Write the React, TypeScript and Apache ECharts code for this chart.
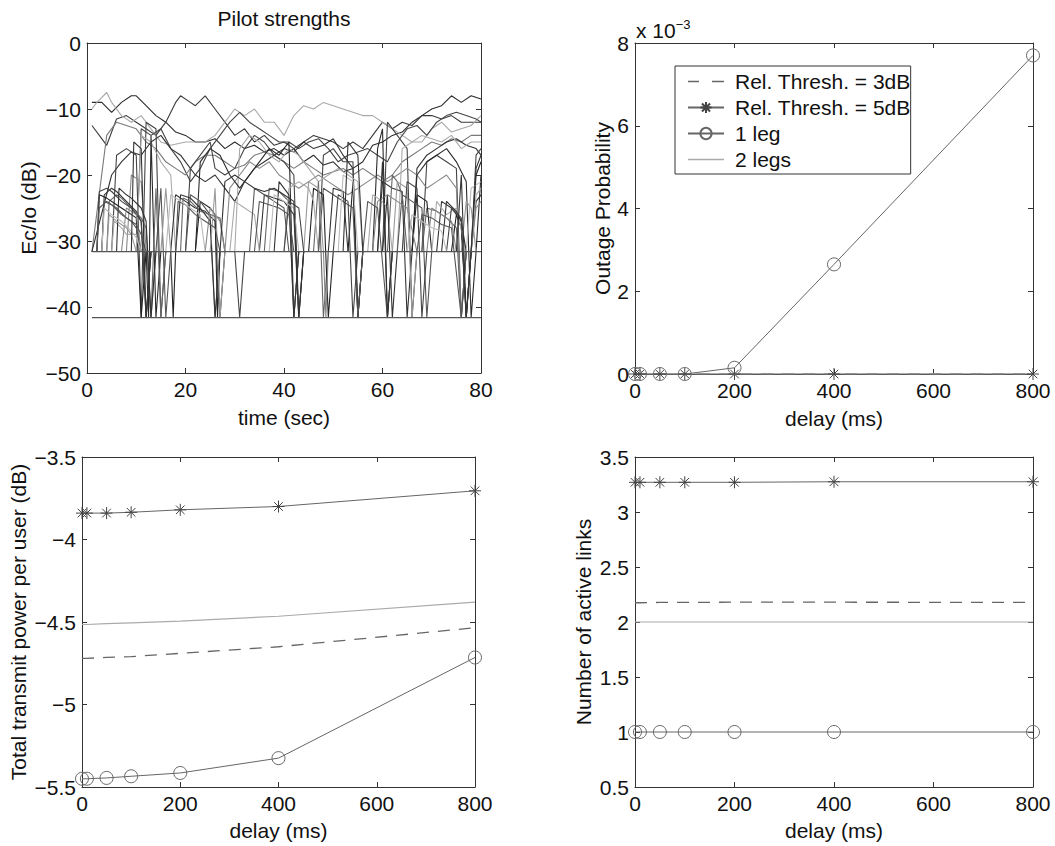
import React, { useEffect, useRef } from "react";
import * as echarts from "echarts";

// ---------- DATA ----------
const DELAYS = [0, 10, 50, 100, 200, 400, 800];

const OUTAGE_3DB = [0, 0, 0, 0, 0, 0, 0];
const OUTAGE_5DB = [0, 0, 0, 0, 0, 0, 0];
const OUTAGE_1LEG = [0, 0, 0, 0, 0.00015, 0.00265, 0.0077];
const OUTAGE_2LEG = [0, 0, 0, 0, 0, 0, 0];

const POWER_3DB = [-4.72, -4.72, -4.715, -4.71, -4.69, -4.65, -4.535];
const POWER_5DB = [-3.84, -3.84, -3.84, -3.835, -3.82, -3.8, -3.705];
const POWER_1LEG = [-5.45, -5.45, -5.445, -5.435, -5.415, -5.325, -4.715];
const POWER_2LEG = [-4.515, -4.515, -4.51, -4.505, -4.495, -4.465, -4.38];

const LINKS_3DB = [2.175, 2.175, 2.178, 2.178, 2.18, 2.18, 2.178];
const LINKS_5DB = [3.27, 3.27, 3.27, 3.27, 3.27, 3.275, 3.275];
const LINKS_1LEG = [1, 1, 1, 1, 1, 1, 1];
const LINKS_2LEG = [2, 2, 2, 2, 2, 2, 2];

const LEGEND_NAMES = ["Rel. Thresh. = 3dB", "Rel. Thresh. = 5dB", "1 leg", "2 legs"];

// Pilot strengths (time sec, Ec/Io dB)
const FLOOR_HI = [[1, -31.6], [80, -31.6]];
const FLOOR_LO = [[1, -41.6], [80, -41.6]];

const PILOT_U1 = [[1,-9],[3,-9],[5,-10.5],[7,-9],[9,-8],[10,-8],[12,-9.5],[14,-11],[16,-12],[18,-13.5],[20,-14],[22,-15],[24,-15],[26,-14.5],[28,-16],[30,-15],[32,-16],[34,-15.5],[36,-16.5],[38,-16],[40,-17],[42,-16],[44,-18],[46,-17],[48,-18.5],[50,-18],[52,-19.5],[54,-19],[56,-18],[58,-15.5],[60,-15],[62,-14],[64,-13.5],[66,-12],[68,-11],[70,-10],[72,-9.5],[74,-8],[76,-9],[78,-8],[80,-8.5]];
const PILOT_U2 = [[1,-12.5],[2.5,-14],[4,-15.5],[6,-11.5],[8,-11],[10,-12],[12,-13],[14,-14],[16,-12],[18,-9],[19,-8],[21,-9],[22,-9.5],[24,-8],[26,-10],[28,-12],[30,-14],[32,-13],[34,-15],[36,-14],[38,-15.5],[40,-15],[42,-16],[44,-15],[46,-14],[48,-14.5],[50,-15],[52,-16],[54,-15],[56,-16],[58,-14],[60,-12],[62,-13],[64,-12],[66,-12.5],[68,-11],[70,-11],[72,-11.5],[74,-11],[76,-12],[78,-12],[80,-12]];
const PILOT_U3 = [[1,-10],[2,-9],[4,-7.5],[5,-9],[7,-11],[9,-12],[11,-11],[13,-13],[15,-15],[17,-15.5],[20,-15],[22,-15],[24,-15],[26,-14],[28,-12],[30,-10],[32,-11],[34,-10],[36,-12],[38,-12],[40,-14],[42,-11],[44,-9.5],[46,-10],[48,-9],[50,-9.5],[52,-10],[54,-10.5],[56,-11],[58,-11],[60,-12],[62,-13],[64,-14],[66,-15],[68,-15],[70,-13],[72,-12],[74,-13.5],[76,-13],[78,-12.5],[80,-11]];
const PILOT_U4 = [[1,-31.6],[10,-31.6],[11,-13],[13,-14],[15,-13],[17,-16],[19,-18],[21,-21],[23,-19],[25,-16],[27,-14],[29,-12],[31,-10.5],[33,-12],[35,-13],[37,-14],[39,-15],[41,-15],[43,-16],[45,-15],[47,-14.5],[49,-16],[51,-18],[53,-17],[55,-16.5],[57,-16],[59,-17],[61,-18],[63,-15],[65,-13],[67,-12.5],[69,-14],[71,-12],[73,-11],[75,-10.5],[77,-11],[79,-11.5],[80,-12]];
const PILOT_U5 = [[1,-31.6],[4,-14],[6,-12],[8,-12.5],[10,-13],[12,-15],[14,-16],[16,-18],[18,-19],[20,-20],[22,-18],[24,-17],[26,-17],[28,-18],[30,-19],[32,-18.5],[34,-17],[36,-16.5],[38,-17],[40,-18],[42,-19],[44,-18],[46,-19],[48,-20],[50,-19.5],[52,-19],[54,-20],[56,-19],[58,-20],[60,-21],[62,-20],[64,-18],[66,-17],[68,-16],[70,-15],[72,-15.5],[74,-14.5],[76,-15],[78,-14],[80,-14]];
const PILOT_U6 = [[1,-31.6],[5,-20],[7,-18],[9,-16.5],[11,-17],[13,-15],[15,-14],[17,-16],[19,-17],[20,-18],[22,-20],[24,-21],[26,-20],[28,-22],[30,-24],[32,-21],[34,-19],[36,-18],[38,-17],[40,-16],[42,-16.5],[44,-15],[46,-16],[48,-15.5],[50,-14.5],[52,-17],[54,-19],[55,-41.6],[56,-31.6],[66,-31.6],[67,-19],[69,-17],[71,-16],[73,-15],[75,-14.5],[77,-15.5],[79,-16],[80,-17]];
const PILOT_M1 = [[1,-31.6],[5,-31.6],[6,-17],[8,-16],[10,-17],[11,-41.6],[12,-12],[14,-13],[15,-41.6],[16,-31.6],[20,-31.6],[21,-19],[23,-17],[25,-15],[26,-19],[28,-20],[30,-19],[32,-16],[34,-14],[36,-15],[38,-17],[40,-18],[42,-20],[43,-41.6],[44,-31.6],[47,-31.6],[48,-17],[50,-16],[52,-18],[54,-18],[55,-41.6],[56,-31.6],[60,-31.6],[61,-12],[63,-14],[65,-16],[66,-41.6],[67,-31.6],[68,-31.6],[69,-18],[71,-17],[73,-18],[75,-19],[76,-41.6],[77,-31.6],[78,-31.6],[79,-17],[80,-16]];
const PILOT_M2 = [[1,-31.6],[8,-31.6],[9,-20],[11,-21],[13,-41.6],[14,-31.6],[28,-31.6],[29,-22],[31,-20],[33,-18],[35,-19],[37,-18],[39,-20],[41,-21],[43,-22],[45,-21],[47,-20],[49,-21],[51,-22],[53,-23],[55,-22],[57,-21],[59,-20],[61,-21],[63,-20],[65,-19],[67,-20],[69,-22],[71,-21],[73,-20],[75,-22],[76,-41.6],[77,-31.6],[80,-31.6]];
const PILOT_M3 = [[1,-31.6],[10,-31.6],[11,-14],[13,-15],[15,-18],[17,-20],[18,-31.6],[30,-31.6],[31,-16],[33,-14],[35,-15],[37,-17],[39,-18],[41,-16],[43,-17],[45,-19],[47,-21],[49,-20],[51,-19],[53,-20],[55,-21],[56,-31.6],[63,-31.6],[64,-16],[66,-15],[68,-14],[70,-14.5],[72,-15],[74,-14],[76,-16],[78,-15],[80,-15]];
const PILOT_M4 = [[1,-31.6],[12,-31.6],[12.5,-41.6],[13,-14],[14,-41.6],[15,-31.6],[22,-31.6],[23,-18],[25,-16],[27,-17],[29,-20],[31,-22],[33,-20],[35,-18],[37,-16],[39,-17],[41,-15],[42,-41.6],[43,-31.6],[58,-31.6],[59,-16],[60,-13],[61,-41.6],[62,-31.6],[66,-31.6],[67,-20],[69,-18],[71,-17],[73,-16],[75,-18],[77,-21],[78,-41.6],[79,-31.6],[80,-20]];
const PILOT_S1 = [[1,-31.6],[3,-31.6],[3.5,-23],[5,-22],[6,-22.5],[8,-24],[10,-25.5],[11,-27],[12,-41.6],[13,-31.6],[17,-31.6],[18,-23],[20,-24],[22,-25],[24,-25.5],[26,-27],[27,-41.6],[28,-31.6],[35,-31.6],[36,-23],[38,-23.5],[40,-24],[42,-26],[43,-41.6],[44,-31.6],[59,-31.6],[60,-21],[62,-22],[64,-22.5],[65,-41.6],[66,-31.6],[71,-31.6],[72,-24],[74,-25],[76,-27],[77,-41.6],[78,-31.6],[79,-24],[80,-23]];
const PILOT_S2 = [[1,-31.6],[4,-31.6],[4.5,-24],[6,-23],[7,-23.5],[9,-25],[11,-26.5],[12,-28],[13,-41.6],[14,-22],[15,-41.6],[16,-31.6],[19,-31.6],[19.5,-23.5],[21,-24],[23,-25.5],[25,-26],[26,-41.6],[27,-31.6],[36,-31.6],[37,-22],[39,-22.5],[41,-24],[42,-41.6],[43,-31.6],[46,-31.6],[47,-21],[48,-41.6],[49,-31.6],[61,-31.6],[62,-20],[63,-21],[64,-23],[65,-31.6],[68,-31.6],[69,-25],[71,-25.5],[73,-26.5],[75,-28],[76,-41.6],[77,-31.6],[80,-31.6]];
const PILOT_S3 = [[1,-31.6],[2,-31.6],[2.5,-23],[4,-23.5],[6,-24.5],[8,-25.5],[10,-26.5],[11,-41.6],[12,-31.6],[17,-31.6],[17.5,-41.6],[18,-31.6],[22,-31.6],[23,-24],[25,-25],[26,-26],[26.5,-41.6],[27,-31.6],[45,-31.6],[46,-22],[48,-23],[49,-41.6],[50,-31.6],[53,-31.6],[54,-21],[55,-41.6],[56,-31.6],[66,-31.6],[67,-23],[69,-24],[70,-31.6],[74,-31.6],[75,-26],[76,-28],[77,-41.6],[78,-31.6],[79,-20],[80,-18]];
const PILOT_S4 = [[1,-31.6],[5,-31.6],[5.5,-27],[7,-28],[8,-29],[10,-29],[11,-31.6],[29,-31.6],[30,-24],[32,-25],[34,-26],[35,-31.6],[40,-31.6],[41,-22],[43,-21],[45,-22],[46,-24],[47,-31.6],[57,-31.6],[58,-23],[60,-24],[61,-25],[62,-31.6],[70,-31.6],[71,-24],[73,-26],[75,-25],[77,-31.6],[78,-31.6],[79,-23],[80,-22]];
const PILOT_S5 = [[1,-31.6],[3,-31.6],[3.5,-24],[5,-24.5],[7,-26],[9,-27],[10,-28],[11,-31.6],[14,-31.6],[15,-22],[16,-41.6],[17,-31.6],[20,-31.6],[21,-23],[23,-24],[25,-26],[27,-26.5],[28,-31.6],[33,-31.6],[34,-22],[36,-23],[38,-24],[40,-25],[41,-31.6],[47,-31.6],[48,-22],[50,-23],[52,-24],[54,-25],[55,-41.6],[56,-31.6],[63,-31.6],[64,-23],[66,-24],[68,-25],[69,-41.6],[70,-31.6],[80,-31.6]];
const PILOT_S6 = [[1,-31.6],[6,-31.6],[6.5,-22],[8,-23],[9,-23.5],[11,-25],[12,-27],[13,-41.6],[14,-31.6],[18,-31.6],[19,-23],[21,-23.5],[23,-25],[24,-26],[25,-27],[26,-41.6],[27,-31.6],[38,-31.6],[39,-21],[41,-23],[42,-41.6],[43,-31.6],[49,-31.6],[50,-22],[52,-22.5],[53,-31.6],[60,-31.6],[61,-23],[62,-41.6],[63,-31.6],[72,-31.6],[73,-24],[75,-25.5],[76,-27],[77,-31.6],[80,-31.6]];
const PILOT_S7 = [[1,-31.6],[4,-31.6],[4.5,-26],[6,-27],[8,-28],[9,-29],[10,-31.6],[15,-31.6],[16,-22],[17,-31.6],[25,-31.6],[26,-22],[27,-41.6],[28,-31.6],[44,-31.6],[45,-21],[47,-22],[48,-31.6],[62,-31.6],[63,-21],[65,-22],[66,-41.6],[67,-31.6],[76,-31.6],[77,-24],[78,-25],[79,-31.6],[80,-31.6]];
const PILOT_S8 = [[1,-31.6],[2,-31.6],[2.5,-22.5],[4,-22],[5,-22.5],[7,-24],[9,-25],[11,-27],[12,-41.6],[13,-31.6],[30,-31.6],[31,-41.6],[32,-31.6],[40,-31.6],[41,-24],[43,-25],[44,-31.6],[50,-31.6],[51,-23],[53,-24],[54,-41.6],[55,-31.6],[64,-31.6],[65,-21],[67,-22],[68,-41.6],[69,-31.6],[73,-31.6],[74,-25],[76,-26.5],[77,-41.6],[78,-31.6],[80,-31.6]];
const PILOT_S9 = [[1,-31.6],[7,-31.6],[8,-25],[10,-26],[11,-31.6],[24,-31.6],[25,-25],[27,-27],[28,-31.6],[48,-31.6],[48.5,-41.6],[49,-31.6],[58,-31.6],[59,-24],[61,-23],[63,-24],[65,-25],[67,-31.6],[69,-31.6],[70,-25],[72,-26],[74,-27],[75,-31.6],[78,-31.6],[79,-25],[80,-24]];
const PILOT_S10 = [[1,-31.6],[2,-31.6],[2.5,-25],[4,-24],[6,-25],[8,-26.5],[10,-27.5],[11,-29],[12,-31.6],[18,-31.6],[18.5,-24],[20,-24.5],[22,-26],[24,-27],[26,-28],[27,-31.6],[34,-31.6],[35,-24],[37,-24.5],[39,-25],[41,-26],[42,-31.6],[56,-31.6],[57,-24],[59,-25],[61,-41.6],[62,-31.6],[67,-31.6],[68,-26],[70,-26.5],[72,-27.5],[74,-28],[76,-41.6],[77,-31.6],[80,-31.6]];
const PILOT_S11 = [[1,-31.6],[3,-31.6],[3.5,-25],[5,-26],[7,-27],[9,-28.5],[10,-29.5],[11,-31.6],[16,-31.6],[17,-23],[19,-24],[21,-25],[23,-26],[24,-31.6],[37,-31.6],[38,-23],[40,-24],[42,-25],[43,-31.6],[51,-31.6],[52,-20],[54,-21],[55,-31.6],[65,-31.6],[66,-26],[68,-27],[70,-28],[72,-28.5],[73,-31.6],[77,-31.6],[78,-22],[80,-21]];
const PILOT_S12 = [[1,-31.6],[9,-31.6],[9.5,-15],[11,-16],[12,-41.6],[13,-31.6],[27,-31.6],[28,-21],[30,-20],[32,-21],[34,-22],[36,-22.5],[38,-22],[40,-23],[42,-24],[43,-41.6],[44,-31.6],[52,-31.6],[53,-15],[55,-17],[56,-31.6],[59,-31.6],[60,-18],[61,-41.6],[62,-31.6],[75,-31.6],[76,-20],[77,-41.6],[78,-31.6],[79,-19],[80,-17]];

const PILOT_SERIES = [
  PILOT_U1, PILOT_U2, PILOT_U3, PILOT_U4, PILOT_U5, PILOT_U6,
  PILOT_M1, PILOT_M2, PILOT_M3, PILOT_M4,
  PILOT_S1, PILOT_S2, PILOT_S3, PILOT_S4, PILOT_S5, PILOT_S6, PILOT_S7, PILOT_S8, PILOT_S9,
  PILOT_S10, PILOT_S11, PILOT_S12,
];
const PILOT_COLORS = [
  "#2a2a2a", "#3a3a3a", "#a8a8a8", "#444444", "#7a7a7a", "#333333",
  "#444444", "#888888", "#aaaaaa", "#2a2a2a",
  "#333333", "#666666", "#222222", "#aaaaaa", "#555555", "#333333", "#999999", "#444444", "#888888",
  "#555555", "#bbbbbb", "#333333",
];

// ---------- STYLE ----------
const FONT = "'Liberation Sans', Arial, Helvetica, sans-serif";
const FS = 21;
const AX = "#333";
const TXT = "#111";
const STAR = "path://M0,-5L0,5M-5,0L5,0M-3.6,-3.6L3.6,3.6M-3.6,3.6L3.6,-3.6";
const DASH_ICON = "path://M0,0h11v1.4h-11zM24,0h12v1.4h-12z";
const LINE_ICON = "path://M0,0h36v1.3h-36z";

const minus = (s: string) => s.replace("-", "\u2212");

function fmtNum(v: number) {
  return minus(String(+v.toFixed(2)));
}

function xAxes(grid: number, min: number, max: number, interval: number, name: string, nameGap: number) {
  const common = {
    type: "value",
    gridIndex: grid,
    min,
    max,
    interval,
    splitLine: { show: false },
    axisLine: { show: true, onZero: false, lineStyle: { color: AX, width: 1 } },
    axisTick: { show: true, inside: true, length: 5, lineStyle: { color: AX } },
  };
  return [
    {
      ...common,
      position: "bottom",
      name,
      nameLocation: "middle",
      nameGap,
      nameTextStyle: { fontFamily: FONT, fontSize: FS, color: TXT },
      axisLabel: { fontFamily: FONT, fontSize: FS, color: TXT, margin: 6, formatter: fmtNum, showMinLabel: true, showMaxLabel: true },
    },
    { ...common, position: "top", axisLabel: { show: false } },
  ];
}

function yAxes(grid: number, min: number, max: number, interval: number, name: string, nameGap: number, fmt: (v: number) => string) {
  const common = {
    type: "value",
    gridIndex: grid,
    min,
    max,
    interval,
    splitLine: { show: false },
    axisLine: { show: true, onZero: false, lineStyle: { color: AX, width: 1 } },
    axisTick: { show: true, inside: true, length: 5, lineStyle: { color: AX } },
  };
  return [
    {
      ...common,
      position: "left",
      name,
      nameLocation: "middle",
      nameGap,
      nameTextStyle: { fontFamily: FONT, fontSize: FS, color: TXT },
      axisLabel: { fontFamily: FONT, fontSize: FS, color: TXT, margin: 6, formatter: fmt, showMinLabel: true, showMaxLabel: true },
    },
    { ...common, position: "right", axisLabel: { show: false } },
  ];
}

function pairs(vals: number[]) {
  return DELAYS.map((x, i) => [x, vals[i]]);
}

function delaySeries(xi: number, yi: number, d3: number[], d5: number[], d1: number[], d2: number[]) {
  return [
    {
      type: "line", name: LEGEND_NAMES[0], xAxisIndex: xi, yAxisIndex: yi, data: pairs(d3),
      symbol: "none", lineStyle: { color: "#666", width: 1.3, type: [12, 9] }, itemStyle: { color: "#666" },
    },
    {
      type: "line", name: LEGEND_NAMES[1], xAxisIndex: xi, yAxisIndex: yi, data: pairs(d5),
      symbol: STAR, symbolSize: 12, lineStyle: { color: "#666", width: 1 },
      itemStyle: { color: "rgba(0,0,0,0)", borderColor: "#444", borderWidth: 1 },
    },
    {
      type: "line", name: LEGEND_NAMES[2], xAxisIndex: xi, yAxisIndex: yi, data: pairs(d1),
      symbol: "circle", symbolSize: 13, lineStyle: { color: "#666", width: 1 },
      itemStyle: { color: "rgba(0,0,0,0)", borderColor: "#666", borderWidth: 1 },
    },
    {
      type: "line", name: LEGEND_NAMES[3], xAxisIndex: xi, yAxisIndex: yi, data: pairs(d2),
      symbol: "none", lineStyle: { color: "#aaa", width: 1.2 }, itemStyle: { color: "#aaa" },
    },
  ];
}

export default function App() {
  const ref = useRef<HTMLDivElement>(null);

  useEffect(() => {
    document.body.style.margin = "0";
    if (!ref.current) return;
    const chart = echarts.init(ref.current, undefined, { renderer: "svg" });

    const pilotSeries = PILOT_SERIES.map((d, i) => ({
      type: "line",
      xAxisIndex: 0,
      yAxisIndex: 0,
      data: d,
      symbol: "none",
      silent: true,
      lineStyle: { color: PILOT_COLORS[i], width: 1.1 },
    }));
    const floors = [FLOOR_HI, FLOOR_LO].map((d) => ({
      type: "line", xAxisIndex: 0, yAxisIndex: 0, data: d, symbol: "none", silent: true,
      lineStyle: { color: "#555", width: 1.3 },
    }));

    const option: any = {
      animation: false,
      backgroundColor: "#fff",
      textStyle: { fontFamily: FONT },
      grid: [
        { left: 87, top: 43, width: 394, height: 330 },
        { left: 635, top: 43, width: 398, height: 331 },
        { left: 82, top: 457, width: 393, height: 330 },
        { left: 635, top: 457, width: 398, height: 330 },
      ],
      xAxis: [
        ...xAxes(0, 0, 80, 20, "time (sec)", 34),
        ...xAxes(1, 0, 800, 200, "delay (ms)", 34),
        ...xAxes(2, 0, 800, 200, "delay (ms)", 33),
        ...xAxes(3, 0, 800, 200, "delay (ms)", 33),
      ],
      yAxis: [
        ...yAxes(0, -50, 0, 10, "Ec/Io (dB)", 48, fmtNum),
        ...yAxes(1, 0, 0.008, 0.002, "Outage Probability", 22, (v: number) => String(Math.round(v * 1000))),
        ...yAxes(2, -5.5, -3.5, 0.5, "Total transmit power per user (dB)", 53, fmtNum),
        ...yAxes(3, 0.5, 3.5, 0.5, "Number of active links", 41, fmtNum),
      ],
      legend: {
        data: [
          { name: LEGEND_NAMES[0], icon: DASH_ICON },
          { name: LEGEND_NAMES[1] },
          { name: LEGEND_NAMES[2] },
          { name: LEGEND_NAMES[3], icon: LINE_ICON },
        ],
        orient: "vertical",
        left: 675,
        top: 66,
        padding: [5, 0, 4, 12],
        itemGap: 5,
        itemWidth: 36,
        itemHeight: 14,
        selectedMode: false,
        borderColor: "#333",
        borderWidth: 1,
        backgroundColor: "#fff",
        textStyle: { fontFamily: FONT, fontSize: FS, color: TXT, padding: [0, 0, 0, 6] },
        z: 10,
      },
      graphic: [
        {
          type: "text", x: 284, y: 18,
          style: { text: "Pilot strengths", font: `${FS}px ${FONT}`, fill: TXT, align: "center", verticalAlign: "middle" },
        },
        {
          type: "text", x: 636, y: 18,
          style: {
            text: "x 10{s|\u22123}",
            font: `${FS}px ${FONT}`,
            fill: TXT,
            rich: { s: { fontSize: 13, fontFamily: FONT, verticalAlign: "top", padding: [0, 0, 12, 0], fill: TXT } },
          },
        },
      ],
      series: [
        ...delaySeries(2, 2, OUTAGE_3DB, OUTAGE_5DB, OUTAGE_1LEG, OUTAGE_2LEG),
        ...pilotSeries,
        ...floors,
        ...delaySeries(4, 4, POWER_3DB, POWER_5DB, POWER_1LEG, POWER_2LEG),
        ...delaySeries(6, 6, LINKS_3DB, LINKS_5DB, LINKS_1LEG, LINKS_2LEG),
      ],
    };
    chart.setOption(option);
    return () => chart.dispose();
  }, []);

  return <div ref={ref} style={{ width: 1055, height: 846 }} />;
}
